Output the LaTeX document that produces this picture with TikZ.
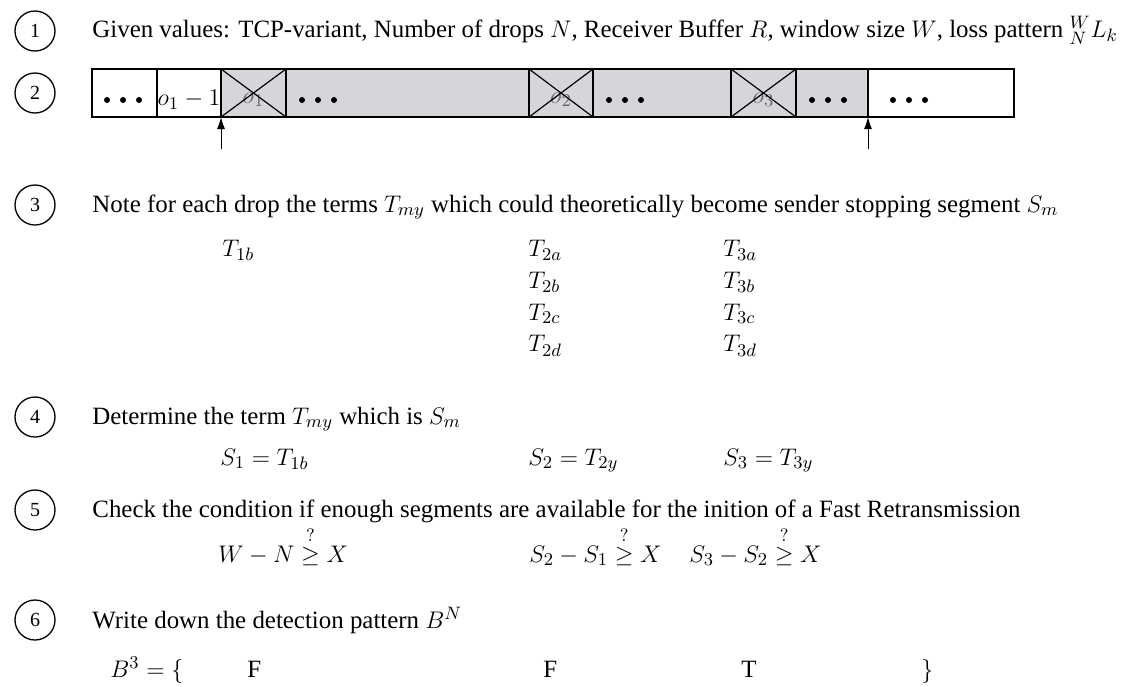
\documentclass[tikz,border=0pt]{standalone}
\usepackage{fontspec}
\setmainfont{Liberation Serif}
\usepackage{amsmath}
\usetikzlibrary{arrows.meta, positioning}
\definecolor{lostgray}{RGB}{214,213,217}

\begin{document}
\fontsize{12.45pt}{15pt}\selectfont
\begin{tikzpicture}[x=0.5pt, y=-0.5pt,
  num/.style={circle, draw, line width=0.65pt, minimum size=20pt, inner sep=0pt,
              font=\fontsize{10}{11}\selectfont},
  txt/.style={anchor=base west, inner sep=0pt},
  cell/.style={rectangle, draw, line width=0.6pt, minimum height=24pt,
               inner sep=0pt, outer sep=0pt},
  sent/.style={cell, fill=lostgray},
  lbl/.style={inner sep=0pt, yshift=-3.5pt},
  arr/.style={-{Latex[length=6pt, width=4pt]}, line width=0.5pt}
]
  \useasboundingbox (0,0) rectangle (1128,686);

  % Step 1
  \node[num] (n1) at (35,31) {1};
  \node[txt] (l1) at (92,37) {Given values: TCP-variant, Number of drops $N$, Receiver Buffer $R$, window size $W$, loss pattern ${}^{W}_{N}L_k$};

  % Step 2: the window
  \node[num] (n2) at (35,93) {2};
  \node[cell, anchor=west, minimum width=32.5pt] (c1) at (92,93) {};
  \node[cell, minimum width=32pt, right=0pt of c1] (c2) {};
  \node[sent, minimum width=32.5pt, right=0pt of c2] (c3) {};
  \node[sent, minimum width=121.5pt, right=0pt of c3] (c4) {};
  \node[sent, minimum width=32pt, right=0pt of c4] (c5) {};
  \node[sent, minimum width=69pt, right=0pt of c5] (c6) {};
  \node[sent, minimum width=32.5pt, right=0pt of c6] (c7) {};
  \node[sent, minimum width=36pt, right=0pt of c7] (c8) {};
  \node[cell, minimum width=73pt, right=0pt of c8] (c9) {};

  \node[lbl] at (c2.center) {$o_1-1$};
  \node[lbl, text=black!60] at (c3.center) {$o_1$};
  \node[lbl, text=black!60] at (c5.center) {$o_2$};
  \node[lbl, text=black!60] at (c7.center) {$o_3$};
  \foreach \c in {c3,c5,c7}
    \draw[line width=0.6pt] (\c.north west) -- (\c.south east) (\c.south west) -- (\c.north east);

  \foreach \cx in {107,302,609,812,893}
    \foreach \d in {0,1,2}
      \fill ({\cx+16*\d},100) circle (1.5pt);

  \coordinate (p1) at (221,149);
  \coordinate (p2) at (868,149);
  \draw[arr] (p1) -- (c3.south west);
  \draw[arr] (p2) -- (c9.south west);

  % Step 3
  \node[num] (n3) at (35,205) {3};
  \node[txt] (l3) at (92,212) {Note for each drop the terms $T_{my}$ which could theoretically become sender stopping segment $S_m$};
  \node[txt] (t1b) at (222,256) {$T_{1b}$};
  \foreach \s [count=\i] in {a,b,c,d} {
    \node[txt] (t2\s) at (528,{225+31.7*\i}) {$T_{2\s}$};
    \node[txt] (t3\s) at (723,{225+31.7*\i}) {$T_{3\s}$};
  }

  % Step 4
  \node[num] (n4) at (35,417) {4};
  \node[txt] (l4) at (92,424) {Determine the term $T_{my}$ which is $S_m$};
  \node[txt] (s1) at (220,465) {$S_1 = T_{1b}$};
  \node[txt] (s2) at (528,465) {$S_2 = T_{2y}$};
  \node[txt] (s3) at (723,465) {$S_3 = T_{3y}$};

  % Step 5
  \node[num] (n5) at (35,510) {5};
  \node[txt] (l5) at (92,517) {Check the condition if enough segments are available for the inition of a Fast Retransmission};
  \node[txt] (f1) at (218,562) {$W - N \stackrel{?}{\geq} X$};
  \node[txt] (f2) at (529,562) {$S_2 - S_1 \stackrel{?}{\geq} X$};
  \node[txt] (f3) at (689,562) {$S_3 - S_2 \stackrel{?}{\geq} X$};

  % Step 6
  \node[num] (n6) at (35,620) {6};
  \node[txt] (l6) at (92,628) {Write down the detection pattern $B^N$};
  \node[txt] (b0) at (110,677) {$B^3 = \{$};
  \node[txt] (b1) at (247,677) {F};
  \node[txt] (b2) at (543,677) {F};
  \node[txt] (b3) at (741,677) {T};
  \node[txt] (b4) at (921,677) {$\}$};
\end{tikzpicture}
\end{document}
